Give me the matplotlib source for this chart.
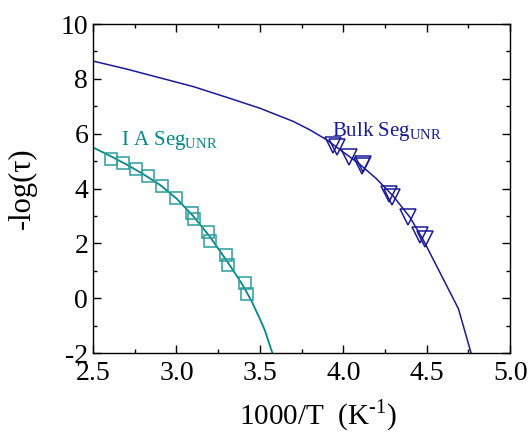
import matplotlib
matplotlib.use('Agg')
import matplotlib.pyplot as plt

plt.rcParams['font.family'] = ['Liberation Serif', 'DejaVu Serif']
plt.rcParams['mathtext.fontset'] = 'custom'
plt.rcParams['mathtext.rm'] = 'Liberation Serif'
plt.rcParams['axes.unicode_minus'] = False

# 데이터
ia_x = [2.608, 2.682, 2.756, 2.832, 2.915, 2.999, 3.095, 3.105, 3.191, 3.201, 3.297, 3.311, 3.411, 3.425]
ia_y = [5.06, 4.95, 4.72, 4.45, 4.11, 3.64, 3.11, 2.88, 2.42, 2.09, 1.59, 1.20, 0.56, 0.17]
ia_fit_x = [2.5, 2.6, 2.7, 2.8, 2.9, 3.0, 3.1, 3.2, 3.3, 3.35, 3.4, 3.45, 3.5, 3.53, 3.575]
ia_fit_y = [5.50, 5.20, 4.88, 4.53, 4.14, 3.64, 3.00, 2.25, 1.38, 0.92, 0.45, -0.10, -0.75, -1.17, -2.0]

bulk_x = [3.937, 3.961, 4.035, 4.111, 4.120, 4.274, 4.294, 4.386, 4.461, 4.490]
bulk_y = [5.58, 5.50, 5.16, 4.83, 4.90, 3.82, 3.70, 2.97, 2.30, 2.15]
bulk_fit_x = [2.5, 2.7, 2.9, 3.1, 3.3, 3.5, 3.7, 3.8, 3.9, 4.0, 4.1, 4.2, 4.3, 4.4, 4.48, 4.69, 4.766]
bulk_fit_y = [8.65, 8.36, 8.04, 7.72, 7.33, 6.93, 6.45, 6.14, 5.78, 5.33, 4.88, 4.35, 3.72, 2.95, 2.12, -0.38, -2.0]

teal = '#008a8a'
navy = '#1a1a99'

fig = plt.figure(figsize=(5.3, 4.37), dpi=100)
ax = fig.add_axes([0.1755, 0.192, 0.787, 0.753])

ax.plot(ia_fit_x, ia_fit_y, color=teal, lw=1.3)
ax.plot(ia_x, ia_y, 's', ms=8.6, mfc='none', mec='#2a9c9c', mew=1.1)
ax.plot(bulk_fit_x, bulk_fit_y, color=navy, lw=1.1)
ax.plot(bulk_x, bulk_y, 'v', ms=11.5, mfc='none', mec=navy, mew=1.1)

ax.text(2.67, 5.6, 'I A Seg$_{\\rm UNR}$', color=teal, fontsize=15)
ax.text(3.93, 5.9, 'Bulk Seg$_{\\rm UNR}$', color=navy, fontsize=15)

ax.set_xlim(2.5, 5.0)
ax.set_ylim(-2, 10)
ax.set_xticks([2.5, 3.0, 3.5, 4.0, 4.5, 5.0])
ax.set_xticklabels(['2.5', '3.0', '3.5', '4.0', '4.5', '5.0'])
ax.set_xticks([2.75, 3.25, 3.75, 4.25, 4.75], minor=True)
ax.set_yticks([-2, 0, 2, 4, 6, 8, 10])
ax.set_yticks([-1, 1, 3, 5, 7, 9], minor=True)
ax.tick_params(which='both', direction='in', top=True, right=True, labelsize=20, width=1)
ax.tick_params(which='major', length=5.5)
ax.tick_params(which='minor', length=3)
ax.tick_params(axis='x', pad=6)
for s in ax.spines.values():
    s.set_linewidth(1)

ax.set_xlabel('1000/T  (K$^{\\text{-1}}$)', fontsize=21)
ax.xaxis.set_label_coords(0.54, -0.135)
ax.set_ylabel('-log(τ)', fontsize=22)
ax.yaxis.set_label_coords(-0.135, 0.5)

fig.savefig('out.png', dpi=100)
